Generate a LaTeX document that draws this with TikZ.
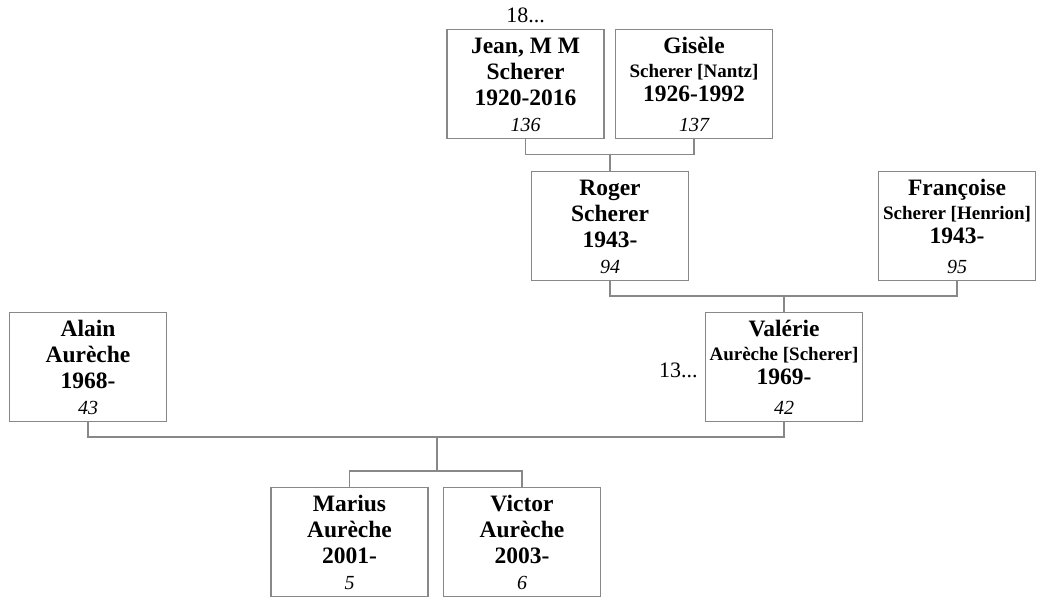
\documentclass[tikz,border=0pt]{standalone}
\usepackage{fontspec}
\setmainfont{Liberation Serif}
\definecolor{linegray}{RGB}{136,136,136}
\tikzset{
  box/.style={draw=linegray, line width=1.3bp, minimum width=157bp, minimum height=109bp, inner sep=0pt},
  big/.style={font=\fontsize{23.5bp}{25bp}\selectfont\bfseries, inner sep=0pt, anchor=base},
  small/.style={font=\fontsize{19bp}{21bp}\selectfont\bfseries, inner sep=0pt, anchor=base},
  num/.style={font=\fontsize{20bp}{22bp}\selectfont\itshape, inner sep=0pt, anchor=base},
  more/.style={font=\fontsize{22bp}{24bp}\selectfont, inner sep=0pt},
  conn/.style={draw=linegray, line width=1.3bp}
}
% type A: three big lines
\newcommand{\personA}[6]{%
  \node[box] (#1) at (#2,#3) {};
  \node[big] (#1-a) at ([yshift=-25bp]#1.north) {#4};
  \node[big] (#1-b) at ([yshift=-51bp]#1.north) {#5};
  \node[big] (#1-c) at ([yshift=-77bp]#1.north) {#6};
}
% type B: big, small, big
\newcommand{\personB}[6]{%
  \node[box] (#1) at (#2,#3) {};
  \node[big] (#1-a) at ([yshift=-25bp]#1.north) {#4};
  \node[small] (#1-b) at ([yshift=-49bp]#1.north) {#5};
  \node[big] (#1-c) at ([yshift=-73bp]#1.north) {#6};
}
\newcommand{\pnum}[2]{\node[num] (#1-n) at ([yshift=8bp]#1.south) {#2};}
\begin{document}
\begin{tikzpicture}[x=1bp,y=-1bp]
\useasboundingbox (0,0) rectangle (1039,599);
\personA{jean}{525.5}{84}{Jean, M M}{Scherer}{1920-2016}\pnum{jean}{136}
\personB{gisele}{694}{84}{Gisèle}{Scherer [Nantz]}{1926-1992}\pnum{gisele}{137}
\personA{roger}{610}{226}{Roger}{Scherer}{1943-}\pnum{roger}{94}
\personB{francoise}{957}{226}{Françoise}{Scherer [Henrion]}{1943-}\pnum{francoise}{95}
\personA{alain}{88}{367}{Alain}{Aurèche}{1968-}\pnum{alain}{43}
\personB{valerie}{784}{367}{Valérie}{Aurèche [Scherer]}{1969-}\pnum{valerie}{42}
\personA{marius}{349.5}{542}{Marius}{Aurèche}{2001-}\pnum{marius}{5}
\personA{victor}{522}{542}{Victor}{Aurèche}{2003-}\pnum{victor}{6}

\node[more, anchor=base] (more18) at ([yshift=6bp]jean.north) {18...};
\node[more, anchor=base east] (more13) at ([xshift=-7bp,yshift=-10bp]valerie.west) {13...};

% Jean + Gisele -> Roger
\coordinate (jg) at (610,154.5);
\draw[conn] (jean.south) |- (gisele.south |- jg) -- (gisele.south);
\draw[conn] (roger.north |- jg) -- (roger.north);
% Roger + Francoise -> Valerie
\coordinate (rf) at (784,296);
\draw[conn] (roger.south) |- (francoise.south |- rf) -- (francoise.south);
\draw[conn] (valerie.north |- rf) -- (valerie.north);
% Alain + Valerie -> children
\coordinate (av) at (437,437);
\coordinate (kids) at (437,471);
\draw[conn] (alain.south) |- (valerie.south |- av) -- (valerie.south);
\draw[conn] (av) -- (kids);
\draw[conn] (marius.north) |- (victor.north |- kids) -- (victor.north);
\end{tikzpicture}
\end{document}
